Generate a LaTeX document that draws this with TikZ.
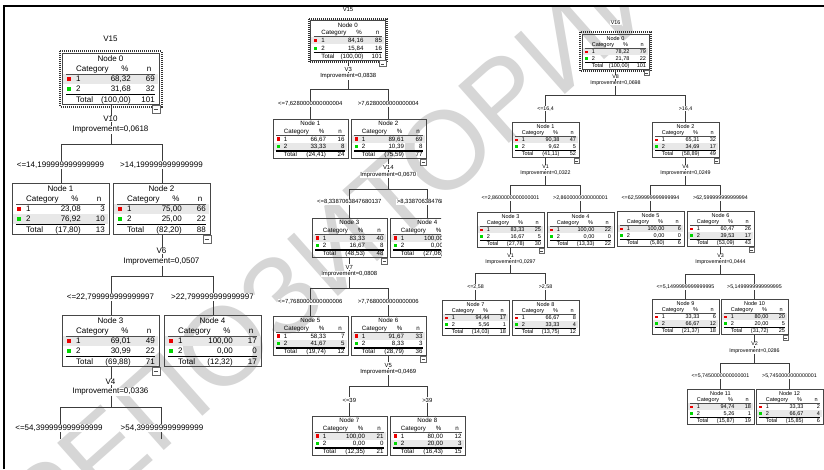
\documentclass[tikz,border=0pt]{standalone}
\usepackage{fontspec}
\setmainfont{Liberation Sans}
\usetikzlibrary{calc}
\definecolor{sqred}{RGB}{235,0,0}
\definecolor{sqgreen}{RGB}{0,215,0}
\definecolor{conncol}{RGB}{60,60,60}
\definecolor{boxcol}{RGB}{70,70,70}
\definecolor{wmcol}{RGB}{214,214,214}
\tikzset{
 nodebox/.style={draw=boxcol, line width=0.9pt, minimum width=97pt, minimum height=51pt, inner sep=0pt},
 tx/.style={inner sep=0pt, font=\fontsize{8}{9}\selectfont},
 rowshade/.style={fill=black!9},
 hdrline/.style={draw=black!70, line width=0.6pt},
 tline/.style={draw=black, line width=1.1pt},
 conn/.style={draw=conncol, line width=0.9pt},
 rootframe/.style={draw=black!80, line width=2pt, dash pattern=on 1pt off 1pt},
 collbox/.style={draw=black!60, fill=white, line width=0.5pt},
 lblA/.style={fill=white, inner sep=0.6pt, font=\fontsize{8}{9}\selectfont},
 lblB/.style={fill=white, inner sep=0.5pt, font=\fontsize{5.9}{7}\selectfont},
 lblC/.style={fill=white, inner sep=0.4pt, font=\fontsize{5.3}{6}\selectfont},
 wm/.style={text=wmcol, inner sep=0pt, font=\fontsize{111}{111}\selectfont},
}
\newcommand\TNvals[6]{\def\TVa{#1}\def\TVb{#2}\def\TVc{#3}\def\TVd{#4}\def\TVe{#5}\def\TVf{#6}}
\newcommand\TNode[6]{%
 \begin{scope}[shift={(#2,#3)}, scale=#4, transform shape]
  \fill[rowshade] (1,{21+10*(#6-1)}) rectangle (96,{31+10*(#6-1)});
  \node[nodebox, anchor=north west] (#1) at (0,0) {};
  \node[tx, anchor=base] (#1t) at (48.5,8.8) {Node #5};
  \node[tx, anchor=base west] (#1h1) at (14,18.8) {Category};
  \node[tx, anchor=base] (#1h2) at (63,18.8) {\%};
  \node[tx, anchor=base] (#1h3) at (87,18.8) {n};
  \draw[hdrline] (4,21) -- (93,21);
  \fill[sqred] (5,24) rectangle (9,28);
  \node[tx, anchor=base west] (#1a1) at (14,28.8) {1};
  \node[tx, anchor=base east] (#1a2) at (69,28.8) {\TVa};
  \node[tx, anchor=base east] (#1a3) at (93,28.8) {\TVb};
  \fill[sqgreen] (5,34) rectangle (9,38);
  \node[tx, anchor=base west] (#1b1) at (14,38.8) {2};
  \node[tx, anchor=base east] (#1b2) at (69,38.8) {\TVc};
  \node[tx, anchor=base east] (#1b3) at (93,38.8) {\TVd};
  \draw[tline] (4,41.5) -- (93,41.5);
  \node[tx, anchor=base west] (#1c1) at (14,49) {Total};
  \node[tx, anchor=base east] (#1c2) at (69,49) {\TVe};
  \node[tx, anchor=base east] (#1c3) at (93,49) {\TVf};
 \end{scope}}
\newcommand\Coll[2]{\begin{scope}[shift={(#1.south east)}, scale=#2]\draw[collbox] (-8,0) rectangle (0,8); \draw[black!70, line width=0.5pt] (-6,4.5) -- (-2,4.5);\end{scope}}
\newcommand\RootFr[1]{\draw[rootframe] ([shift={(-1.6,-1.6)}]#1.north west) rectangle ([shift={(1.6,1.6)}]#1.south east);}
\newcommand\Split[4]{%
 \coordinate (barY) at (0,#2);
 \draw[conn] (#1.south) -- (#1.south |- barY) -| (#3.north);
 \draw[conn] (#1.south |- barY) -| (#4.north);}
\begin{document}
\begin{tikzpicture}[x=1pt,y=-1pt]
\useasboundingbox (0,0) rectangle (824,469);
\fill[white] (0,0) rectangle (824,469);
\node[wm, rotate=41.6] (wmark) at (329,238) {РЕПОЗИТОРИЙ};

% ---------------- left tree ----------------
\node[lblA] (lv15) at (110.5,39) {V15};
\TNvals{68,32}{69}{31,68}{32}{(100,00)}{101}
\TNode{L0}{62}{53}{1}{0}{1}
\RootFr{L0}
\TNvals{23,08}{3}{76,92}{10}{(17,80)}{13}
\TNode{L1}{12}{183}{1}{1}{2}
\TNvals{75,00}{66}{25,00}{22}{(82,20)}{88}
\TNode{L2}{113}{183}{1}{2}{1}
\TNvals{69,01}{49}{30,99}{22}{(69,88)}{71}
\TNode{L3}{62}{315}{1}{3}{1}
\TNvals{100,00}{17}{0,00}{0}{(12,32)}{17}
\TNode{L4}{164}{315}{1}{4}{1}
\coordinate (L5) at (60.5,439);
\coordinate (L6) at (161.5,439);

\Split{L0}{144}{L1}{L2}
\Split{L2}{276}{L3}{L4}
\Split{L3}{407}{L5}{L6}
\Coll{L0}{1}\Coll{L2}{1}\Coll{L3}{1}

\node[lblA] (la1) at (110.5,119) {V10};
\node[lblA] (la2) at (110.5,130) {Improvement=0,0618};
\node[lblA] (la3) at (60.5,165) {<=14,199999999999999};
\node[lblA] (la4) at (161.5,165) {>14,199999999999999};
\node[lblA] (lb1) at (161.5,251) {V6};
\node[lblA] (lb2) at (161.5,262) {Improvement=0,0507};
\node[lblA] (lb3) at (110.5,297) {<=22,799999999999997};
\node[lblA] (lb4) at (212.5,297) {>22,799999999999997};
\node[lblA] (lc1) at (110.5,382) {V4};
\node[lblA] (lc2) at (110.5,392) {Improvement=0,0336};
\node[lblA] (lc3) at (59,428) {<=54,399999999999999};
\node[lblA] (lc4) at (162,428) {>54,399999999999999};

% ---------------- middle tree ----------------
\node[lblB] (mv15) at (348,9) {V15};
\TNvals{84,16}{85}{15,84}{16}{(100,00)}{101}
\TNode{M0}{310.5}{20.5}{0.77}{0}{1}
\RootFr{M0}
\TNvals{66,67}{16}{33,33}{8}{(24,41)}{24}
\TNode{M1}{273}{119}{0.77}{1}{2}
\TNvals{89,61}{69}{10,39}{8}{(75,59)}{77}
\TNode{M2}{351}{119}{0.77}{2}{1}
\TNvals{83,33}{40}{16,67}{8}{(48,53)}{48}
\TNode{M3}{312}{218}{0.77}{3}{1}
\begin{scope}
\clip (300,190) rectangle (441,265);
\TNvals{100,00}{29}{0,00}{0}{(27,06)}{29}
\TNode{M4}{390}{218}{0.77}{4}{1}
\node[lblB] (mb4) at (427.3,202) {>8,3387063847680137};
\end{scope}
\TNvals{58,33}{7}{41,67}{5}{(19,74)}{12}
\TNode{M5}{273}{316}{0.77}{5}{2}
\TNvals{91,67}{33}{8,33}{3}{(28,79)}{36}
\TNode{M6}{351}{316}{0.77}{6}{1}
\TNvals{100,00}{21}{0,00}{0}{(12,35)}{21}
\TNode{M7}{312}{416}{0.77}{7}{1}
\TNvals{80,00}{12}{20,00}{3}{(16,43)}{15}
\TNode{M8}{390}{416}{0.77}{8}{2}

\Split{M0}{89}{M1}{M2}
\Split{M2}{189}{M3}{M4}
\Split{M3}{288}{M5}{M6}
\Split{M6}{386}{M7}{M8}
\Coll{M0}{0.77}\Coll{M2}{0.77}\Coll{M3}{0.77}\Coll{M6}{0.77}

\node[lblB] (ma1) at (348.3,69) {V3};
\node[lblB] (ma2) at (348.3,76.5) {Improvement=0,0838};
\node[lblB] (ma3) at (310.3,104) {<=7,6280000000000004};
\node[lblB] (ma4) at (388.3,104) {>7,6280000000000004};
\node[lblB] (mb1) at (388.3,167) {V14};
\node[lblB] (mb2) at (388.3,175) {Improvement=0,0670};
\node[lblB] (mb3) at (349.3,202) {<=8,3387063847680137};
\begin{scope}
\clip (300,190) rectangle (441,265);
\node[lblB] (mb4b) at (427.3,202) {>8,3387063847680137};
\end{scope}
\node[lblB] (mc1) at (349.3,267) {V7};
\node[lblB] (mc2) at (349.3,274) {Improvement=0,0808};
\node[lblB] (mc3) at (310.3,302) {<=7,7680000000000006};
\node[lblB] (mc4) at (388.3,302) {>7,7680000000000006};
\node[lblB] (md1) at (388.3,365) {V5};
\node[lblB] (md2) at (388.3,372) {Improvement=0,0469};
\node[lblB] (md3) at (349.3,400) {<=39};
\node[lblB] (md4) at (427.3,400) {>39};

% ---------------- right tree ----------------
\node[lblC] (rv16) at (615.5,23) {V16};
\TNvals{78,22}{79}{21,78}{22}{(100,00)}{101}
\TNode{R0}{582}{34}{0.69}{0}{1}
\RootFr{R0}
\TNvals{90,38}{47}{9,62}{5}{(41,11)}{52}
\TNode{R1}{512}{122}{0.69}{1}{1}
\TNvals{65,31}{32}{34,69}{17}{(58,89)}{49}
\TNode{R2}{652}{122}{0.69}{2}{2}
\TNvals{83,33}{25}{16,67}{5}{(27,78)}{30}
\TNode{R3}{477}{212}{0.69}{3}{1}
\TNvals{100,00}{22}{0,00}{0}{(13,33)}{22}
\TNode{R4}{547}{212}{0.69}{4}{1}
\TNvals{100,00}{6}{0,00}{0}{(5,80)}{6}
\TNode{R5}{617}{211}{0.69}{5}{1}
\TNvals{60,47}{26}{39,53}{17}{(53,09)}{43}
\TNode{R6}{687}{211}{0.69}{6}{2}
\TNvals{94,44}{17}{5,56}{1}{(14,03)}{18}
\TNode{R7}{442}{300}{0.69}{7}{1}
\TNvals{66,67}{8}{33,33}{4}{(13,75)}{12}
\TNode{R8}{512}{300}{0.69}{8}{2}
\TNvals{33,33}{6}{66,67}{12}{(21,37)}{18}
\TNode{R9}{652}{299}{0.69}{9}{2}
\TNvals{80,00}{20}{20,00}{5}{(31,72)}{25}
\TNode{R10}{721}{299}{0.69}{10}{1}
\TNvals{94,74}{18}{5,26}{1}{(15,87)}{19}
\TNode{R11}{687}{389}{0.69}{11}{1}
\TNvals{33,33}{2}{66,67}{4}{(15,85)}{6}
\TNode{R12}{756}{389}{0.69}{12}{2}

\Split{R0}{95}{R1}{R2}
\Split{R1}{185}{R3}{R4}
\Split{R2}{185}{R5}{R6}
\Split{R3}{273}{R7}{R8}
\Split{R6}{274}{R9}{R10}
\Split{R10}{363}{R11}{R12}
\Coll{R0}{0.69}\Coll{R1}{0.69}\Coll{R2}{0.69}\Coll{R3}{0.69}\Coll{R6}{0.69}\Coll{R10}{0.69}

\node[lblC] (ra1) at (615.5,77) {V8};
\node[lblC] (ra2) at (615.5,83.5) {Improvement=0,0698};
\node[lblC] (ra3) at (545.5,108.5) {<=16,4};
\node[lblC] (ra4) at (685.5,108.5) {>16,4};
\node[lblC] (rb1) at (545.5,167) {V1};
\node[lblC] (rb2) at (545.5,173) {Improvement=0,0322};
\node[lblC] (rb3) at (510.5,198) {<=2,8600000000000001};
\node[lblC] (rb4) at (580.5,198) {>2,8600000000000001};
\node[lblC] (rc1) at (685.5,167) {V4};
\node[lblC] (rc2) at (685.5,173) {Improvement=0,0249};
\node[lblC] (rc3) at (650.5,198) {<=62,599999999999994};
\node[lblC] (rc4) at (720.5,198) {>62,599999999999994};
\node[lblC] (rd1) at (510.5,256) {V1};
\node[lblC] (rd2) at (510.5,262) {Improvement=0,0297};
\node[lblC] (rd3) at (475.5,287) {<=2,58};
\node[lblC] (rd4) at (545.5,287) {>2,58};
\node[lblC] (re1) at (720.5,256) {V3};
\node[lblC] (re2) at (720.5,262) {Improvement=0,0444};
\node[lblC] (re3) at (685.5,287) {<=5,1499999999999995};
\node[lblC] (re4) at (754.5,287) {>5,1499999999999995};
\node[lblC] (rf1) at (754.5,344) {V2};
\node[lblC] (rf2) at (754.5,351) {Improvement=0,0286};
\node[lblC] (rf3) at (720.5,376) {<=5,7450000000000001};
\node[lblC] (rf4) at (789.5,376) {>5,7450000000000001};

% ---------------- frame ----------------
\fill[white] (0,0) rectangle (824,5);
\draw[line width=2pt, black] (4,469) -- (4,6) -- (824,6);
\end{tikzpicture}
\end{document}
